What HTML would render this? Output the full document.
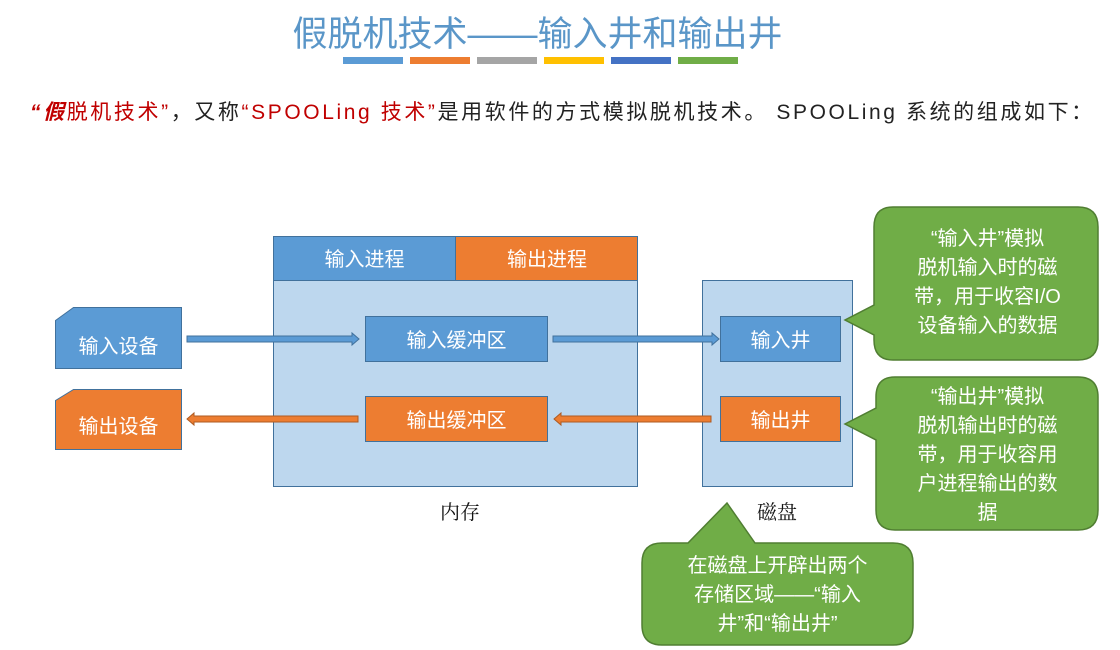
<!DOCTYPE html>
<html><head><meta charset="utf-8">
<style>
body{margin:0;width:1120px;height:650px;background:#fff;overflow:hidden;position:relative;font-family:"Liberation Sans","Noto Sans CJK SC",sans-serif}
.t{position:absolute;white-space:nowrap}
.c{position:absolute;display:flex;align-items:center;justify-content:center;color:#fff;font-size:20px;text-align:center;line-height:29px}
</style></head><body>
<svg width="1120" height="650" style="position:absolute;left:0;top:0">
<g>
<rect x="343" y="57" width="60" height="7" fill="#5b9bd5"/>
<rect x="410" y="57" width="60" height="7" fill="#ed7d31"/>
<rect x="477" y="57" width="60" height="7" fill="#a5a5a5"/>
<rect x="544" y="57" width="60" height="7" fill="#ffc000"/>
<rect x="611" y="57" width="60" height="7" fill="#4472c4"/>
<rect x="678" y="57" width="60" height="7" fill="#70ad47"/>
</g>
<rect x="273.5" y="236.5" width="364" height="250" fill="#bdd7ee" stroke="#41719c"/>
<rect x="273.5" y="236.5" width="182" height="44" fill="#5b9bd5" stroke="#41719c"/>
<rect x="455.5" y="236.5" width="182" height="44" fill="#ed7d31" stroke="#41719c"/>
<rect x="702.5" y="280.5" width="150" height="206" fill="#bdd7ee" stroke="#41719c"/>
<polygon points="55.5,320.5 73.5,307.5 181.5,307.5 181.5,368.5 55.5,368.5" fill="#5b9bd5" stroke="#41719c"/>
<polygon points="55.5,400.5 73.5,389.5 181.5,389.5 181.5,449.5 55.5,449.5" fill="#ed7d31" stroke="#41719c"/>
<rect x="365.5" y="316.5" width="182" height="45" fill="#5b9bd5" stroke="#41719c"/>
<rect x="365.5" y="396.5" width="182" height="45" fill="#ed7d31" stroke="#41719c"/>
<rect x="720.5" y="316.5" width="120" height="45" fill="#5b9bd5" stroke="#41719c"/>
<rect x="720.5" y="396.5" width="120" height="45" fill="#ed7d31" stroke="#41719c"/>
<g fill="#5b9bd5" stroke="#41719c" stroke-width="1">
<polygon points="187,336 352,336 352,333 359,339 352,345 352,342 187,342"/>
<polygon points="553,336 712,336 712,333 719,339 712,345 712,342 553,342"/>
</g>
<g fill="#ed7d31" stroke="#ae5a21" stroke-width="1">
<polygon points="711,416 561,416 561,413 554,419 561,425 561,422 711,422"/>
<polygon points="358,416 194,416 194,413 187,419 194,425 194,422 358,422"/>
</g>
<g fill="#70ad47" stroke="#507e32" stroke-width="1.5">
<path d="M893,207 H1078 Q1098,207 1098,227 V340 Q1098,360 1078,360 H893 Q874,360 874,340 V335 L845,320 L874,305 V227 Q874,207 893,207 Z"/>
<path d="M895,377 H1078 Q1098,377 1098,397 V510 Q1098,530 1078,530 H895 Q876,530 876,510 V440 L845,424 L876,408 V397 Q876,377 895,377 Z"/>
<path d="M662,543 H688 L727,503 L755,543 H893 Q913,543 913,563 V625 Q913,645 893,645 H662 Q642,645 642,625 V563 Q642,543 662,543 Z"/>
</g>
</svg>
<div class="t" style="left:0;width:1075px;text-align:center;top:6px;font-size:35px;color:#5a96c8">假脱机技术——输入井和输出井</div>
<div class="t" style="left:30px;top:96px;font-size:21px;color:#222;letter-spacing:2.6px"><span style="color:#c00000"><i><b>“假</b></i>脱机技术”</span>，又称<span style="color:#c00000">“SPOOLing 技术”</span>是用软件的方式模拟脱机技术。 SPOOLing 系统的组成如下：</div>
<div class="c" style="left:273px;top:238px;width:183px;height:45px">输入进程</div>
<div class="c" style="left:456px;top:238px;width:182px;height:45px">输出进程</div>
<div class="c" style="left:55px;top:320px;width:127px;height:54px">输入设备</div>
<div class="c" style="left:55px;top:400px;width:127px;height:54px">输出设备</div>
<div class="c" style="left:365px;top:318px;width:183px;height:46px">输入缓冲区</div>
<div class="c" style="left:365px;top:398px;width:183px;height:46px">输出缓冲区</div>
<div class="c" style="left:720px;top:318px;width:121px;height:46px">输入井</div>
<div class="c" style="left:720px;top:398px;width:121px;height:46px">输出井</div>
<div class="c" style="left:420px;top:498px;width:80px;height:30px;color:#111;font-family:'Liberation Serif','Noto Serif CJK SC',serif">内存</div>
<div class="c" style="left:737px;top:498px;width:80px;height:30px;color:#111;font-family:'Liberation Serif','Noto Serif CJK SC',serif">磁盘</div>
<div class="c" style="left:885px;top:213px;width:205px;height:140px">“输入井”模拟<br>脱机输入时的磁<br>带，用于收容I/O<br>设备输入的数据</div>
<div class="c" style="left:885px;top:380px;width:205px;height:150px">“输出井”模拟<br>脱机输出时的磁<br>带，用于收容用<br>户进程输出的数<br>据</div>
<div class="c" style="left:645px;top:548px;width:265px;height:94px">在磁盘上开辟出两个<br>存储区域——“输入<br>井”和“输出井”</div>
</body></html>
